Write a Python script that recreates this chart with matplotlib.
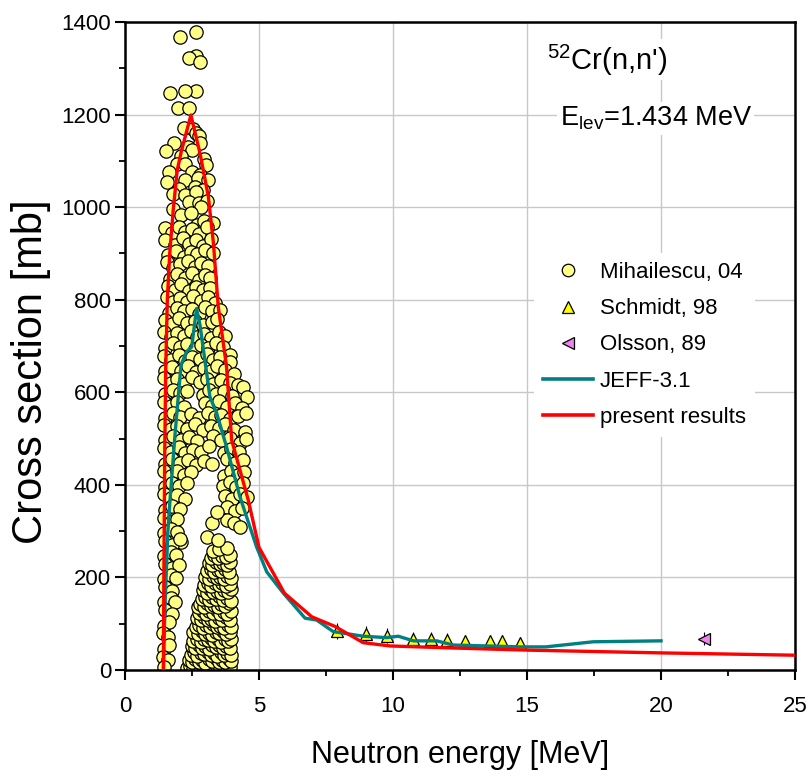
import matplotlib
matplotlib.use('Agg')
import matplotlib.pyplot as plt
from matplotlib.lines import Line2D
from matplotlib.ticker import MultipleLocator

plt.rcParams['font.family'] = ['Liberation Sans', 'DejaVu Sans']
plt.rcParams['mathtext.fontset'] = 'custom'
plt.rcParams['mathtext.rm'] = 'Liberation Sans'
plt.rcParams['mathtext.it'] = 'Liberation Sans'
plt.rcParams['mathtext.bf'] = 'Liberation Sans'

# ---------------- data ----------------
# Mihailescu, 04 -- isolated points on top of the peak
mih_top_x = [2.66, 2.06, 2.66, 2.39, 2.79, 2.66, 2.23, 1.69, 1.98, 2.40, 2.21, 2.53, 2.65, 2.77,
             1.84, 2.35, 2.80, 1.54, 2.50, 2.1, 2.95, 1.94, 2.25, 3.02, 1.64, 2.49, 2.8,
             1.55, 2.24, 2.74, 3.11, 2.0, 2.6, 2.9, 1.80, 2.23, 2.65, 2.4, 2.77, 3.05,
             1.80, 2.84, 2.1, 2.45]
mih_top_y = [1378, 1367, 1326, 1323, 1313, 1251, 1250, 1247, 1214, 1214, 1172, 1168, 1160, 1154,
             1138, 1131, 1138, 1122, 1123, 1110, 1104, 1094, 1093, 1091, 1075, 1077, 1070,
             1055, 1059, 1062, 1059, 1040, 1044, 1036, 1028, 1026, 1033, 1012, 1008, 1014,
             997, 1001, 983, 988]

# Mihailescu, 04 -- main band
mih_main_x = [
    2.7, 2.95, 3.30,
    1.5, 1.75, 2.0, 2.25, 2.5, 2.75, 3.05,
    1.49, 1.85, 2.15, 2.4, 2.65, 2.9, 3.2,
    1.6, 1.9, 2.2, 2.45, 2.7, 3.0, 3.29,
    1.55, 1.8, 2.05, 2.35, 2.6, 2.85, 3.1,
    1.68, 1.95, 2.25, 2.5, 2.75, 3.0, 3.17,
    1.61, 1.85, 2.1, 2.4, 2.65, 2.9, 3.17,
    1.55, 1.8, 2.05, 2.3, 2.55, 2.85, 3.1, 3.35,
    1.65, 1.95, 2.2, 2.5, 2.75, 3.0, 3.25, 3.54,
    1.49, 1.75, 2.0, 2.3, 2.6, 2.9, 3.23, 3.45,
    1.45, 1.7, 1.95, 2.2, 2.45, 2.7, 2.95, 3.2, 3.5, 3.75,
    1.5, 1.8, 2.05, 2.3, 2.6, 2.85, 3.1, 3.4, 3.65, 3.92,
    1.45, 1.7, 2.0, 2.25, 2.5, 2.8, 3.05, 3.3, 3.55, 3.9,
    1.5, 1.75, 2.1, 2.35, 2.65, 2.95, 3.2, 3.45, 3.75, 4.05,
    1.45, 1.7, 1.95, 2.2, 2.5, 2.8, 3.05, 3.3, 3.6, 3.9, 4.2,
    1.5, 1.8, 2.05, 2.3, 2.9, 3.15, 3.4, 3.7, 4.0, 4.4, 4.54,
    1.45, 1.7, 1.95, 2.2, 3.0, 3.25, 3.5, 3.8, 4.1, 4.35,
    1.5, 1.8, 2.05, 2.45, 2.75, 3.1, 3.35, 3.6, 3.9, 4.2, 4.5,
    1.45, 1.7, 1.95, 2.3, 2.6, 2.9, 3.2, 3.5, 3.75, 4.05, 4.48,
    1.5, 1.8, 2.1, 2.4, 2.7, 3.3, 3.6, 3.9, 4.29, 4.5,
    1.45, 1.7, 2.0, 2.25, 2.55, 2.85, 3.15, 3.7, 3.95, 4.25,
    1.5, 1.75, 2.05, 2.35, 2.65, 2.95, 3.25, 3.8, 4.1, 4.4,
    1.45, 1.7, 1.95, 2.2, 2.45, 3.7, 3.95, 4.2, 4.45,
    1.5, 1.75, 2.0, 2.3, 3.65, 3.9, 4.15, 4.4,
    1.45, 1.7, 1.95, 2.25, 3.75, 4.0, 4.3, 4.55,
    1.5, 1.75, 2.05, 3.8, 4.1, 4.35,
    1.45, 1.7, 1.95, 3.8, 4.05, 4.3,
    1.45, 1.7, 1.95, 2.1,
    1.5, 1.75, 2.05,
    1.45, 1.7, 1.9,
    1.5, 1.75, 2.0,
    1.45, 1.7, 1.9,
    1.5, 1.75,
    1.45, 1.7, 1.85,
    1.5, 1.75,
    1.45, 1.65,
    1.4, 1.6,
    1.45, 1.65,
    1.4, 1.6,
    1.45,
]
mih_main_y = [
    962, 971, 966,
    955, 944, 958, 946, 953, 941, 957,
    930, 919, 933, 921, 928, 917, 931,
    896, 906, 893, 904, 898, 908, 902,
    881, 869, 878, 884, 870, 880, 872,
    845, 856, 847, 858, 843, 853, 848,
    830, 820, 833, 818, 828, 822, 825,
    806, 795, 803, 794, 808, 797, 805, 793,
    772, 783, 775, 781, 770, 785, 776, 778,
    756, 747, 760, 749, 755, 745, 752, 758,
    730, 719, 728, 721, 733, 720, 727, 718, 731, 722,
    695, 706, 698, 704, 693, 703, 696, 707, 697, 680,
    679, 670, 681, 668, 677, 672, 683, 669, 676, 665,
    645, 655, 647, 656, 643, 652, 646, 657, 648, 640,
    630, 620, 628, 619, 632, 622, 629, 618, 627, 621, 615,
    596, 605, 598, 603, 594, 606, 597, 602, 593, 611, 590,
    580, 570, 578, 568, 577, 571, 582, 569, 576, 565,
    545, 555, 547, 553, 544, 556, 546, 552, 543, 549, 555,
    530, 520, 528, 521, 532, 519, 527, 523, 531, 518, 515,
    496, 505, 497, 503, 494, 506, 498, 502, 490, 500,
    479, 470, 481, 468, 476, 472, 483, 469, 478, 471,
    446, 455, 447, 454, 443, 452, 445, 456, 448, 453,
    429, 420, 431, 422, 427, 419, 430, 421, 428,
    396, 404, 397, 405, 398, 406, 395, 403,
    380, 371, 378, 369, 377, 370, 381, 374,
    346, 355, 347, 353, 344, 351,
    329, 320, 327, 324, 318, 309,
    296, 305, 298, 277,
    279, 270, 283,
    246, 255, 248,
    229, 220, 227,
    196, 205, 198,
    179, 171,
    146, 155, 148,
    129, 121,
    96, 104,
    79, 71,
    46, 55,
    29, 21,
    6,
]

# Mihailescu, 04 -- dense lower band
mih_low_x = [
    2.3, 2.42, 2.55, 2.68, 2.8, 2.92, 3.05, 3.18, 3.3, 3.42, 3.55, 3.68, 3.8, 3.92,
    2.38, 2.5, 2.62, 2.75, 2.88, 3.0, 3.12, 3.25, 3.38, 3.5, 3.62, 3.75, 3.88, 3.97,
    2.45, 2.58, 2.7, 2.82, 2.95, 3.08, 3.2, 3.32, 3.45, 3.58, 3.7, 3.82, 3.95,
    2.5, 2.62, 2.75, 2.88, 3.0, 3.14, 3.26, 3.4, 3.52, 3.65, 3.78, 3.9,
    2.55, 2.7, 2.82, 2.95, 3.08, 3.2, 3.33, 3.46, 3.58, 3.72, 3.85, 3.97,
    2.55, 2.72, 2.86, 3.0, 3.12, 3.25, 3.38, 3.5, 3.64, 3.78, 3.92,
    2.65, 2.78, 2.9, 3.04, 3.16, 3.3, 3.42, 3.56, 3.7, 3.84, 3.96,
    2.7, 2.84, 2.96, 3.1, 3.22, 3.36, 3.5, 3.62, 3.76, 3.9,
    2.75, 2.9, 3.02, 3.15, 3.28, 3.42, 3.55, 3.68, 3.82, 3.95,
    2.73, 2.8, 2.94, 3.06, 3.2, 3.33, 3.46, 3.6, 3.74, 3.88,
    2.86, 3.0, 3.12, 3.25, 3.38, 3.52, 3.65, 3.8, 3.94,
    2.92, 3.05, 3.18, 3.3, 3.44, 3.57, 3.7, 3.84, 3.96,
    2.96, 3.1, 3.22, 3.36, 3.5, 3.62, 3.76, 3.9,
    3.0, 3.14, 3.28, 3.42, 3.55, 3.68, 3.82, 3.94,
    3.06, 3.2, 3.34, 3.48, 3.6, 3.74, 3.88,
    3.12, 3.26, 3.4, 3.54, 3.66, 3.8, 3.92,
    3.2, 3.34, 3.48, 3.62, 3.76, 3.9,
    3.3, 3.5, 3.79, 3.05, 3.48, 3.23, 3.42,
]
mih_low_y = [
    4, 9, 3, 8, 5, 10, 4, 7, 3, 9, 5, 8, 4, 7,
    22, 17, 24, 18, 21, 16, 23, 19, 25, 17, 22, 18, 24, 20,
    33, 38, 31, 37, 34, 39, 32, 36, 30, 38, 33, 37, 32,
    52, 47, 54, 48, 51, 46, 53, 49, 55, 47, 52, 48,
    63, 68, 61, 67, 64, 69, 62, 66, 60, 68, 63, 67,
    82, 77, 84, 78, 81, 76, 83, 79, 85, 77, 82,
    93, 98, 91, 97, 94, 99, 92, 96, 90, 98, 93,
    112, 107, 114, 108, 111, 106, 113, 109, 115, 107,
    123, 128, 121, 127, 124, 129, 122, 126, 120, 128,
    136, 142, 137, 144, 138, 141, 136, 143, 139, 145,
    153, 158, 151, 157, 154, 159, 152, 156, 150,
    172, 167, 174, 168, 171, 166, 173, 169, 175,
    183, 188, 181, 187, 184, 189, 182, 186,
    202, 197, 204, 198, 201, 196, 203, 199,
    213, 218, 211, 217, 214, 219, 212,
    232, 227, 234, 228, 231, 226, 233,
    243, 248, 241, 247, 244, 249,
    258, 262, 264, 288, 281, 318, 342,
]

# Schmidt, 98
sch_x = [7.92, 8.98, 9.79, 10.76, 11.42, 12.0, 12.69, 13.62, 14.05, 14.74]
sch_y = [84, 78, 74, 68, 68, 64, 62, 62, 62, 58]
sch_err = [18, 17, 16, 15, 15, 15, 14, 14, 14, 14]

# Olsson, 89
ols_x = [21.6]
ols_y = [68]
ols_yerr = [14]
ols_xerr = [0.12]

# JEFF-3.1
jeff_x = [1.434, 1.5, 1.6, 1.68, 1.87, 2.09, 2.30, 2.49, 2.67, 2.8, 3.17, 3.42, 3.79,
          4.29, 4.91, 5.29, 5.91, 6.72, 7.15, 7.77, 8.89, 9.76, 10.2, 10.76, 11.63,
          12.25, 14.74, 15.7, 17.47, 20.0]
jeff_y = [0, 150, 300, 367, 511, 659, 688, 698, 781, 745, 590, 555, 482,
          374, 266, 212, 166, 112, 108, 83, 73, 70, 73, 63, 63,
          54, 50, 50, 61, 63]

# present results
pres_x = [1.434, 1.45, 1.48, 1.52, 1.58, 1.67, 1.80, 1.95, 2.1, 2.46, 2.80, 3.11, 3.30,
          3.48, 3.79, 3.98, 4.60, 5.0, 5.95, 6.97, 7.84, 8.89, 9.89, 12.0, 15.0, 20.0, 25.0]
pres_y = [0, 200, 450, 650, 800, 900, 994, 1080, 1120, 1199, 1116, 1023, 922,
          785, 655, 497, 367, 265, 166, 115, 94, 59, 52, 48, 43, 37, 32]

xticks = [0, 5, 10, 15, 20, 25]
yticks = [0, 200, 400, 600, 800, 1000, 1200, 1400]
labels = ['Mihailescu, 04', 'Schmidt, 98', 'Olsson, 89', 'JEFF-3.1', 'present results']

# ---------------- plot ----------------
mih_x = mih_top_x + mih_main_x + mih_low_x
mih_y = mih_top_y + mih_main_y + mih_low_y

fig = plt.figure(figsize=(8.1, 7.8), dpi=100)
ax = fig.add_axes([0.1543, 0.141, 0.8272, 0.8308])

YEL = '#ffff88'
ax.scatter(mih_x, mih_y, s=92, c=YEL, edgecolors='black', linewidths=0.9, zorder=2)
ax.errorbar(sch_x, sch_y, yerr=sch_err, fmt='^', ms=8, mfc='#ffff00', mec='black', mew=0.9,
            ecolor='black', elinewidth=0.8, capsize=0, zorder=3)
ax.errorbar(ols_x, ols_y, yerr=ols_yerr, xerr=ols_xerr, fmt='<', ms=8, mfc='#ee82ee',
            mec='black', mew=0.9, ecolor='black', elinewidth=0.8, capsize=0, zorder=3)
ax.plot(jeff_x, jeff_y, color='#008080', lw=2.4, zorder=4)
ax.plot(pres_x, pres_y, color='#ff0000', lw=2.4, zorder=5)

ax.set_xlim(0, 25)
ax.set_ylim(0, 1400)
ax.set_xticks(xticks)
ax.set_yticks(yticks)
ax.xaxis.set_minor_locator(MultipleLocator(2.5))
ax.yaxis.set_minor_locator(MultipleLocator(100))
ax.tick_params(which='major', direction='out', length=7, width=1.5, labelsize=16)
ax.tick_params(axis='x', which='major', pad=12)
ax.tick_params(axis='y', which='major', pad=3)
ax.tick_params(which='minor', direction='out', length=4, width=1.3)
ax.grid(True, which='major', color='#c8c8c8', lw=1.0)
ax.set_axisbelow(True)
for sp in ax.spines.values():
    sp.set_linewidth(1.8)

ax.set_xlabel('Neutron energy [MeV]', fontsize=22)
ax.xaxis.set_label_coords(0.5, -0.108)
ax.set_ylabel('Cross section [mb]', fontsize=30)
ax.yaxis.set_label_coords(-0.11, 0.46)

ax.text(18.0, 1318, r"$^{52}$Cr(n,n')", ha='center', va='center', fontsize=21, zorder=6,
        bbox=dict(fc='white', ec='none', pad=2))
ax.text(19.8, 1192, r"E$_{\mathrm{lev}}$=1.434 MeV", ha='center', va='center', fontsize=19.5,
        zorder=6, bbox=dict(fc='white', ec='none', pad=2))

handles = [
    Line2D([], [], ls='none', marker='o', ms=9, mfc=YEL, mec='black', mew=0.9),
    Line2D([], [], ls='none', marker='^', ms=9, mfc='#ffff00', mec='black', mew=0.9),
    Line2D([], [], ls='none', marker='<', ms=9, mfc='#ee82ee', mec='black', mew=0.9),
    Line2D([], [], color='#008080', lw=2.6),
    Line2D([], [], color='#ff0000', lw=2.6),
]
leg = ax.legend(handles, labels, loc='upper left', bbox_to_anchor=(0.61, 0.643),
                frameon=True, fancybox=False, edgecolor='none', facecolor='white', framealpha=1,
                fontsize=16, handlelength=2.25, handletextpad=0.32, labelspacing=0.68,
                borderpad=0.4, borderaxespad=0)
leg.set_zorder(7)

fig.savefig('out.png', dpi=100)
